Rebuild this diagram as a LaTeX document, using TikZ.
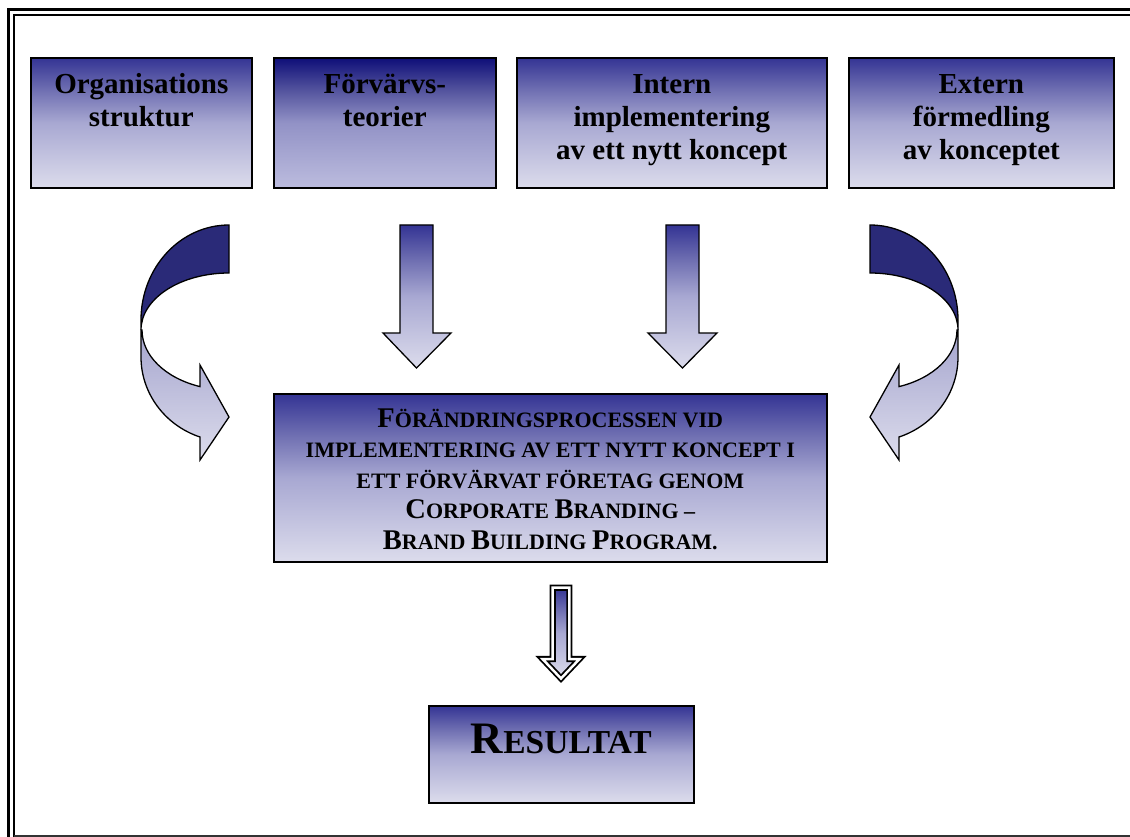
\documentclass[tikz,border=0pt]{standalone}
\usepackage{fontspec}
\setmainfont{Liberation Serif}
\definecolor{navy}{RGB}{52,52,148}
\definecolor{navyq}{RGB}{112,112,178}
\definecolor{navym}{RGB}{168,168,210}
\definecolor{pale}{RGB}{220,220,236}
\definecolor{navyD}{RGB}{14,14,120}
\definecolor{navyDq}{RGB}{84,84,158}
\definecolor{navyDm}{RGB}{146,146,198}
\definecolor{paleD}{RGB}{188,188,222}
\definecolor{arcdark}{RGB}{42,42,120}
\definecolor{arclight}{RGB}{165,165,206}
\pgfdeclareverticalshading{boxsh}{100bp}{color(0bp)=(pale); color(25bp)=(pale); color(50bp)=(navym); color(62.5bp)=(navyq); color(75bp)=(navy); color(100bp)=(navy)}
\pgfdeclareverticalshading{boxshD}{100bp}{color(0bp)=(paleD); color(25bp)=(paleD); color(50bp)=(navyDm); color(62.5bp)=(navyDq); color(75bp)=(navyD); color(100bp)=(navyD)}
\newcommand\BigL[1]{{\fontsize{28.5}{30.5}\selectfont #1}}
\newcommand\myCurvedArrow{%
  \path[shade, top color=arclight, bottom color=pale, draw=black, line width=1.3pt, line join=miter]
    (141,330) -- (141,357) .. controls (141,393) and (164.7,425.3) .. (200,437)
    -- (200,460) -- (229,417) -- (200,365) -- (200,386.6)
    .. controls (165.2,378.1) and (142,355.5) .. (142,330) -- cycle;
  \path[fill=arcdark, draw=black, line width=1.3pt]
    (229,225) .. controls (180.4,225) and (141,267.5) .. (141,320) -- (141,330)
    .. controls (141,298.5) and (180.4,273) .. (229,273) -- cycle;
}
\tikzset{
  box/.style={draw=black, line width=1.6pt, shading=boxsh, rectangle, inner sep=0pt, anchor=north west},
  toptext/.style={anchor=north, align=center, inner sep=0pt, font=\fontsize{29}{33}\selectfont\bfseries},
  midtext/.style={anchor=north, align=center, inner sep=0pt, font=\fontsize{22}{30.5}\selectfont\bfseries},
  blockarrow/.style={shading=boxsh, draw=black, line width=1.3pt, line join=miter},
}
\begin{document}
\begin{tikzpicture}[x=1pt, y=-1pt]
\useasboundingbox (0,0) rectangle (1130,837);
% frame
\draw[line width=3pt] (8,840) -- (8,9.5) -- (1135,9.5);
\draw[line width=1.5pt] (14,840) -- (14,15) -- (1135,15);
\draw[line width=2pt, draw=black!80] (14,836) -- (1135,836);
% top boxes
\node[box, minimum width=221pt, minimum height=130pt] (b1) at (30,57) {};
\node[box, shading=boxshD, minimum width=222pt, minimum height=130pt] (b2) at (273,57) {};
\node[box, minimum width=310pt, minimum height=130pt] (b3) at (516,57) {};
\node[box, minimum width=265pt, minimum height=130pt] (b4) at (848,57) {};
\node[toptext] (t1) at (b1.north |- 0,70) {\strut Organisations\\struktur};
\node[toptext] (t2) at (b2.north |- 0,70) {\strut Förvärvs-\\teorier};
\node[toptext] (t3) at (b3.north |- 0,70) {\strut Intern\\implementering\\av ett nytt koncept};
\node[toptext] (t4) at (b4.north |- 0,70) {\strut Extern\\förmedling\\av konceptet};
% central box
\node[box, minimum width=553pt, minimum height=168pt] (c) at (273,393) {};
\node[midtext] (ct) at (c.north |- 0,405.6) {\strut\BigL{F}ÖRÄNDRINGSPROCESSEN VID\\IMPLEMENTERING AV ETT NYTT KONCEPT I\\ETT FÖRVÄRVAT FÖRETAG GENOM\\\BigL{C}ORPORATE \BigL{B}RANDING –\\\BigL{B}RAND \BigL{B}UILDING \BigL{P}ROGRAM.};
% result box
\node[box, minimum width=265pt, minimum height=97pt] (r) at (428,705) {};
\node[anchor=base, inner sep=0pt, font=\bfseries] (rt) at (r.north |- 0,753) {{\fontsize{45}{50}\selectfont R}{\fontsize{33.5}{40}\selectfont ESULTAT}};
% straight arrows
\path[blockarrow] (400,225) -- (433,225) -- (433,333) -- (451,333) -- (416.5,368) -- (383,333) -- (400,333) -- cycle;
\path[blockarrow] (666,225) -- (699,225) -- (699,333) -- (717,333) -- (682.5,368) -- (648,333) -- (666,333) -- cycle;
% curved arrows
\myCurvedArrow
\begin{scope}[shift={(1099,0)}, xscale=-1]
\myCurvedArrow
\end{scope}
% double arrow
\path[shading=boxsh, draw=black, line width=1.8pt, double=white, double distance=2.5pt, line join=miter]
  (552.7,587.7) -- (569.3,587.7) -- (569.3,659) -- (579.5,659) -- (561,678.5) -- (542.5,659) -- (552.7,659) -- cycle;
\end{tikzpicture}
\end{document}
